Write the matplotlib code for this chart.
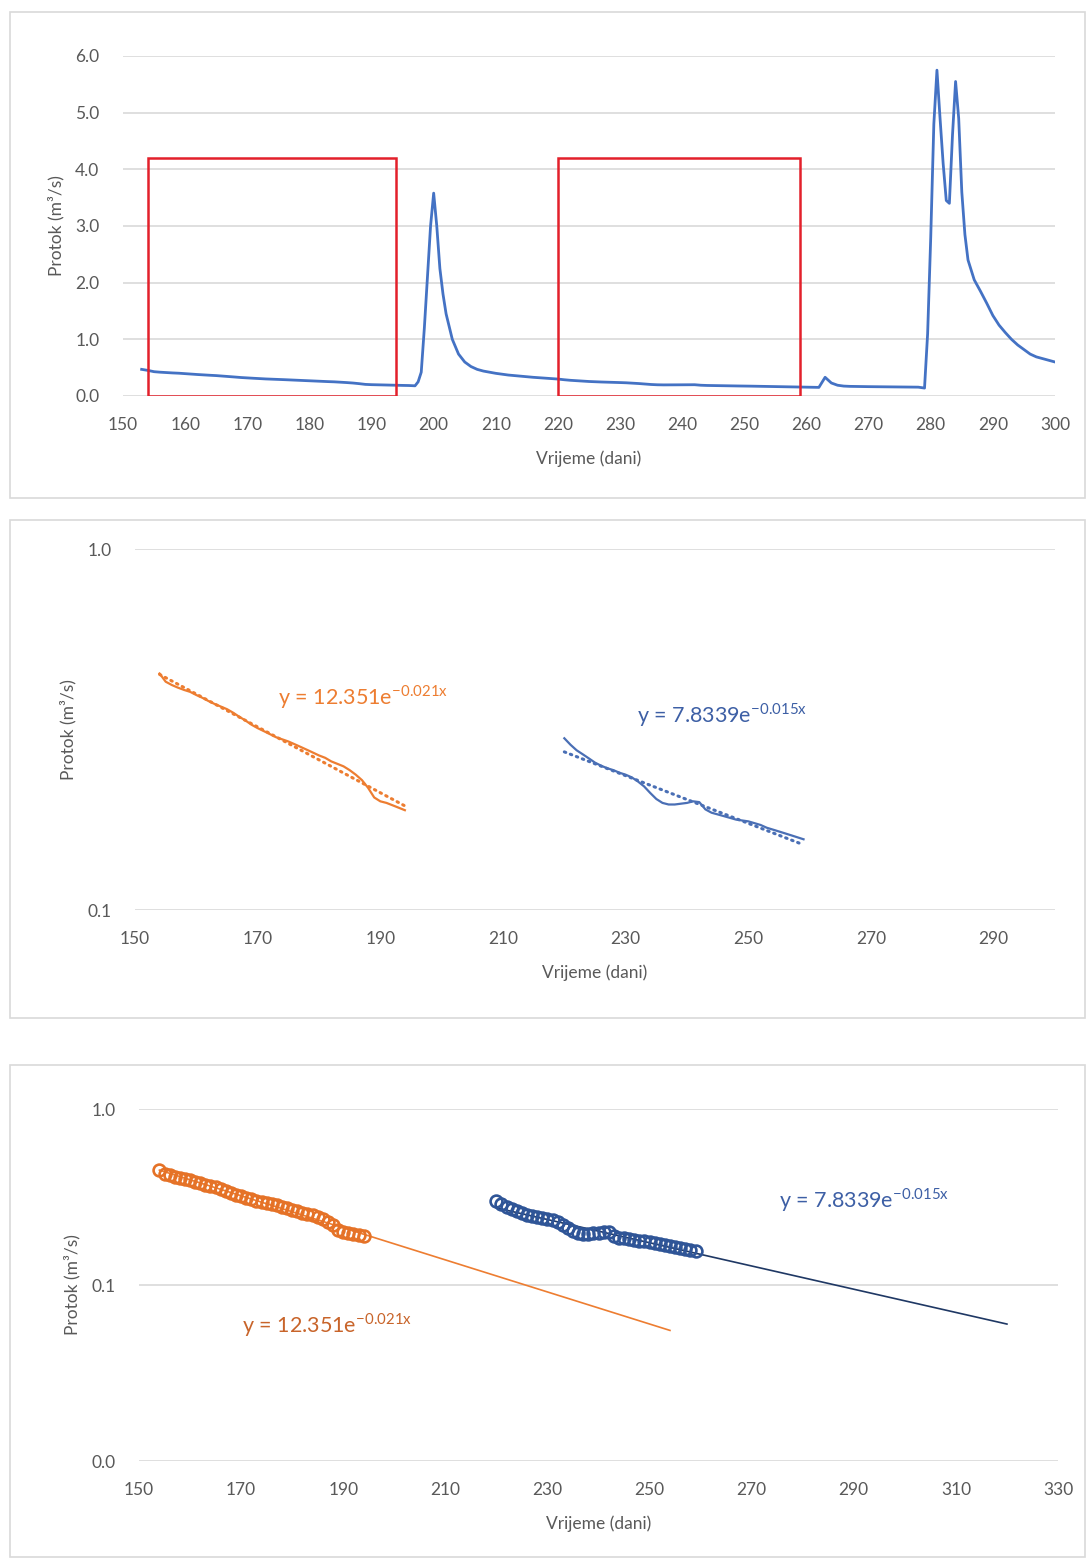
import numpy as np
import matplotlib
matplotlib.use("Agg")
import matplotlib.pyplot as plt
from matplotlib.patches import Rectangle

plt.rcParams['font.family'] = ['Lato', 'DejaVu Sans']
plt.rcParams['mathtext.fontset'] = 'custom'
plt.rcParams['mathtext.rm'] = 'Lato'

# recession segment 1 (orange), days 154..194
days_a = list(range(154, 195))
flow_a = [0.452, 0.429, 0.420, 0.413, 0.407, 0.402, 0.394, 0.387, 0.379, 0.372,
          0.366, 0.360, 0.352, 0.343, 0.335, 0.326, 0.319, 0.313, 0.307, 0.301,
          0.297, 0.293, 0.288, 0.283, 0.278, 0.273, 0.268, 0.264, 0.258, 0.254,
          0.250, 0.244, 0.237, 0.229, 0.218, 0.205, 0.200, 0.198, 0.195, 0.192,
          0.189]

# recession segment 2 (blue), days 220..259
days_b = list(range(220, 260))
flow_b = [0.299, 0.287, 0.277, 0.270, 0.263, 0.256, 0.251, 0.247, 0.244, 0.240,
          0.237, 0.233, 0.227, 0.220, 0.211, 0.203, 0.198, 0.196, 0.196, 0.197,
          0.198, 0.200, 0.199, 0.190, 0.186, 0.184, 0.182, 0.180, 0.178, 0.177,
          0.176, 0.174, 0.172, 0.169, 0.167, 0.165, 0.163, 0.161, 0.159, 0.157]

# rest of the hydrograph (first flood wave)
days_c = [195, 196, 197, 197.5, 198, 198.5, 199, 199.5, 200, 200.5, 201, 201.5,
          202, 203, 204, 205, 206, 207, 208, 209, 210, 211, 212, 213, 214, 215,
          216, 217, 218, 219]
flow_c = [0.187, 0.185, 0.180, 0.25, 0.42, 1.2, 2.1, 3.0, 3.58, 3.0, 2.25, 1.8,
          1.45, 1.0, 0.74, 0.60, 0.52, 0.47, 0.44, 0.42, 0.40, 0.385, 0.37, 0.36,
          0.35, 0.34, 0.33, 0.322, 0.314, 0.306]
# second flood wave
days_d = [260, 261, 262, 263, 264, 265, 266, 267, 268, 269, 270, 271, 272, 273,
          274, 275, 276, 277, 278, 279, 279.5, 280, 280.5, 281, 281.5, 282, 282.5,
          283, 283.5, 284, 284.5, 285, 285.5, 286, 287, 288, 289, 290, 291, 292,
          293, 294, 295, 296, 297, 298, 299, 300]
flow_d = [0.156, 0.155, 0.152, 0.33, 0.23, 0.19, 0.175, 0.170, 0.168, 0.166,
          0.165, 0.164, 0.163, 0.162, 0.161, 0.160, 0.159, 0.158, 0.156, 0.14,
          1.1, 2.8, 4.8, 5.75, 4.9, 4.1, 3.45, 3.4, 4.6, 5.55, 4.9, 3.6, 2.85,
          2.4, 2.05, 1.85, 1.64, 1.42, 1.25, 1.12, 1.00, 0.90, 0.82, 0.74, 0.69,
          0.66, 0.63, 0.60]

days_all = [153] + days_a + days_c + days_b + days_d
flow_all = [0.47] + flow_a + flow_c + flow_b + flow_d

eq_a = r'y = 12.351e$^{\mathregular{-0.021x}}$'
eq_b = r'y = 7.8339e$^{\mathregular{-0.015x}}$'
forecast_a = 60
forecast_b = 61

boxes = [(154, 194), (220, 259)]

W, H = 1087, 1560
c_line = '#4472C4'
c_or = '#ED7D31'
c_bl = '#4A6FB5'
grid_c = '#D9D9D9'
txt_c = '#595959'


def expfit(d, f, x):
    # exponential trendline like Excel: ln(y) linear in x
    k, b = np.polyfit(d, np.log(f), 1)
    return np.exp(b + k * np.asarray(x))


fig = plt.figure(figsize=(W / 100, H / 100), dpi=100)


def pos(l, t, r, b):
    return [l / W, 1 - b / H, (r - l) / W, (b - t) / H]


def frame(l, t, r, b):
    fig.patches.append(Rectangle((l / W, 1 - b / H), (r - l) / W, (b - t) / H,
                                 transform=fig.transFigure, fill=False,
                                 edgecolor='#D9D9D9', lw=1.2))


def style(ax):
    for s in ['top', 'right', 'left', 'bottom']:
        ax.spines[s].set_visible(False)
    ax.tick_params(length=0, colors=txt_c, labelsize=12.5, pad=15)
    ax.tick_params(axis='y', pad=17)
    ax.yaxis.grid(True, color=grid_c, lw=1.2)
    ax.set_axisbelow(True)
    ax.set_xlabel('Vrijeme (dani)', color=txt_c, fontsize=12.5, labelpad=13)
    ax.set_ylabel('Protok (m³/s)', color=txt_c, fontsize=12.5, labelpad=8)


frame(10, 12, 1085, 498)
frame(10, 520, 1085, 1018)
frame(10, 1065, 1085, 1557)

# panel 1
ax1 = fig.add_axes(pos(123, 56, 1055, 396))
ax1.plot(days_all, flow_all, color=c_line, lw=2, solid_joinstyle='round')
for b0, b1 in boxes:
    ax1.add_patch(Rectangle((b0, 0), b1 - b0, 4.2, fill=False,
                            edgecolor='#E3202B', lw=1.8, zorder=3))
ax1.set_xlim(150, 300)
ax1.set_ylim(0, 6)
ax1.set_xticks(range(150, 301, 10))
ax1.set_yticks(range(0, 7))
ax1.set_yticklabels([f'{v:.1f}' for v in range(0, 7)])
style(ax1)

# panel 2
ax2 = fig.add_axes(pos(135, 549, 1055, 910))
for d, f, c in [(days_a, flow_a, c_or), (days_b, flow_b, c_bl)]:
    ax2.plot(d, expfit(d, f, d), color=c, lw=2.2, ls=(0, (0.5, 1.6)),
             dash_capstyle='round')
    ax2.plot(d, f, color=c, lw=1.6)
ax2.set_yscale('log')
ax2.set_xlim(150, 300)
ax2.set_ylim(0.1, 1.0)
ax2.set_xticks(range(150, 300, 20))
ax2.set_yticks([0.1, 1.0])
ax2.set_yticklabels(['0.1', '1.0'])
ax2.yaxis.set_minor_locator(matplotlib.ticker.NullLocator())
style(ax2)
ax2.text(173.3, 0.389, eq_a, color=c_or, fontsize=15.5, va='center')
ax2.text(231.9, 0.347, eq_b, color='#3D5FA5', fontsize=15.5, va='center')

# panel 3
ax3 = fig.add_axes(pos(139, 1109, 1058, 1461))
xa = np.linspace(days_a[0], days_a[-1] + forecast_a, 50)
xb = np.linspace(days_b[0], days_b[-1] + forecast_b, 50)
ax3.plot(xa, expfit(days_a, flow_a, xa), color=c_or, lw=1.2)
ax3.plot(xb, expfit(days_b, flow_b, xb), color='#1F3864', lw=1.2)
ax3.plot(days_a, flow_a, ls='none', marker='o', ms=8.5, mfc='none',
         mec='#E57227', mew=1.9)
ax3.plot(days_b, flow_b, ls='none', marker='o', ms=8.5, mfc='none',
         mec='#2F5597', mew=1.9)
ax3.set_yscale('log')
ax3.set_xlim(150, 330)
ax3.set_ylim(0.01, 1.0)
ax3.set_xticks(range(150, 331, 20))
ax3.set_yticks([0.01, 0.1, 1.0])
ax3.set_yticklabels(['0.0', '0.1', '1.0'])
ax3.yaxis.set_minor_locator(matplotlib.ticker.NullLocator())
style(ax3)
ax3.text(170.2, 0.0593, eq_a, color='#C8642A', fontsize=15.5, va='center')
ax3.text(275.3, 0.304, eq_b, color='#3D5FA5', fontsize=15.5, va='center')

fig.savefig('out.png', dpi=100)
